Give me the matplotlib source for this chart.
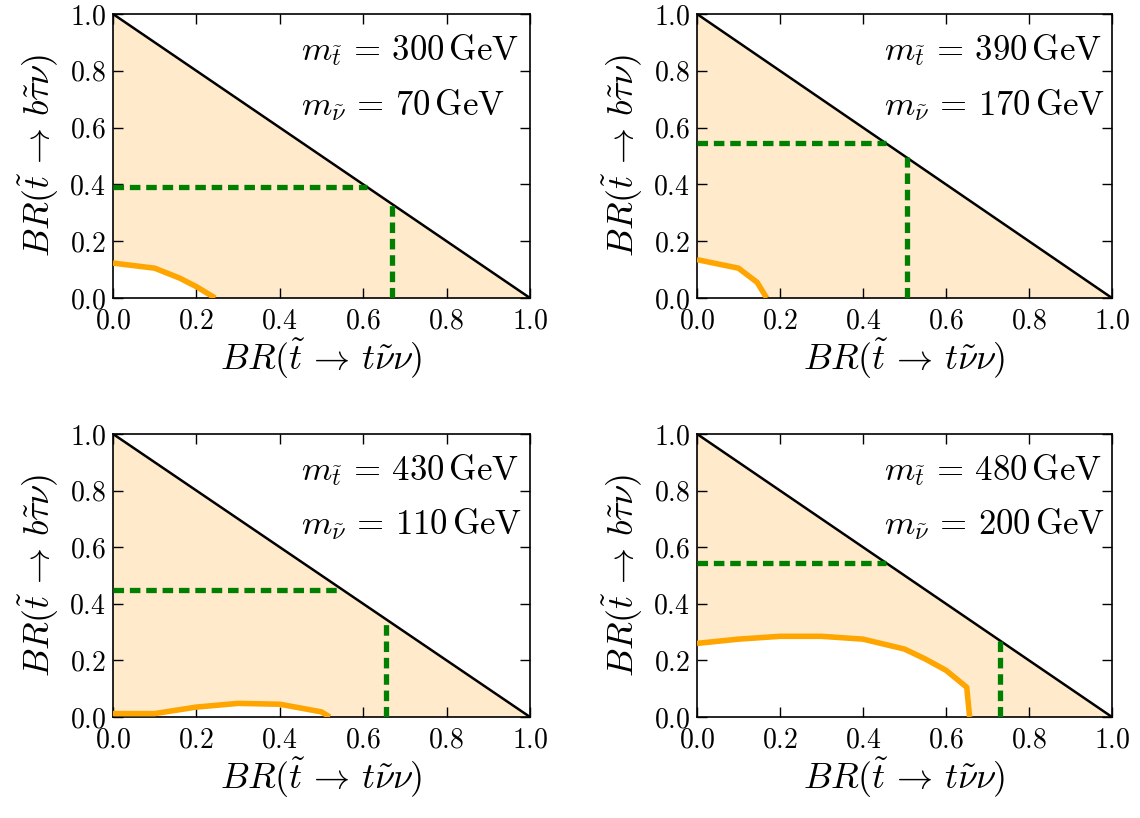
import numpy as np
import matplotlib
matplotlib.use("Agg")
from matplotlib import pyplot as plt

plt.rcParams['font.family'] = 'serif'
plt.rcParams['font.serif'] = ['cmr10']
plt.rcParams['mathtext.fontset'] = 'cm'
plt.rcParams['axes.formatter.use_mathtext'] = True

# --------------- data ---------------
stop_mass = [300, 390, 430, 480]
snu_mass = [70, 170, 110, 200]

# orange exclusion curves (x = BR(t nu nu), y = BR(b tau nu))
curve_x = [
    [0.0, 0.10, 0.16, 0.20, 0.245],
    [0.0, 0.10, 0.145, 0.168],
    [0.0, 0.10, 0.20, 0.30, 0.40, 0.50, 0.52],
    [0.0, 0.10, 0.20, 0.30, 0.40, 0.50, 0.55, 0.60, 0.65, 0.657],
]
curve_y = [
    [0.123, 0.105, 0.07, 0.04, 0.0],
    [0.135, 0.105, 0.055, 0.0],
    [0.012, 0.012, 0.035, 0.048, 0.045, 0.018, 0.0],
    [0.26, 0.275, 0.285, 0.285, 0.275, 0.24, 0.205, 0.165, 0.105, 0.0],
]

# green dashed limits
hline_y = [0.39, 0.545, 0.45, 0.545]
vline_x = [0.67, 0.505, 0.655, 0.73]

positions = [
    [0.0991, 0.6357, 0.3658, 0.3472],
    [0.6114, 0.6357, 0.3640, 0.3472],
    [0.0991, 0.1235, 0.3658, 0.3460],
    [0.6114, 0.1235, 0.3640, 0.3460],
]

fig = plt.figure(figsize=(11.4, 8.18), dpi=100)

for i in range(4):
    ax = fig.add_axes(positions[i])
    cx = np.array(curve_x[i])
    cy = np.array(curve_y[i])

    # shaded allowed region: above the orange curve, below the diagonal
    px = np.concatenate([[0.0, 1.0], cx[::-1]])
    py = np.concatenate([[1.0, 0.0], cy[::-1]])
    ax.fill(px, py, color='#ffebcc', lw=0, zorder=1)

    ax.plot([0, 1], [1, 0], color='black', lw=1.8, zorder=3)
    ax.plot(cx, cy, color='orange', lw=4, zorder=4, solid_capstyle='butt')

    h = hline_y[i]
    v = vline_x[i]
    ax.plot([0, 1 - h], [h, h], color='green', lw=3.8,
            linestyle=(0, (2.0, 1.1)), zorder=5)
    ax.plot([v, v], [0, 1 - v], color='green', lw=3.8,
            linestyle=(0, (2.0, 1.1)), zorder=5)

    ax.text(0.45, 0.873, r'$m_{\tilde{t}}\, =\, %d\,\mathrm{GeV}$' % stop_mass[i],
            transform=ax.transAxes, fontsize=25, ha='left', va='center')
    ax.text(0.45, 0.68, r'$m_{\tilde{\nu}}\, =\, %d\,\mathrm{GeV}$' % snu_mass[i],
            transform=ax.transAxes, fontsize=25, ha='left', va='center')

    ax.set_xlim(0, 1)
    ax.set_ylim(0, 1)
    ax.set_xticks(np.arange(0, 1.01, 0.2))
    ax.set_yticks(np.arange(0, 1.01, 0.2))
    ax.tick_params(direction='in', top=True, right=True, length=7,
                   width=1, labelsize=20)
    ax.tick_params(axis='x', pad=7)
    ax.tick_params(axis='y', pad=5)
    for s in ax.spines.values():
        s.set_linewidth(1.2)
    ax.set_xlabel(r'$BR(\tilde{t}\, \rightarrow\, t\tilde{\nu}\nu)$', fontsize=26, labelpad=2)
    ax.set_ylabel(r'$BR(\tilde{t}\, \rightarrow\, b\tilde{\tau}\nu)$', fontsize=26, labelpad=6)

plt.savefig('out.png', dpi=100)
